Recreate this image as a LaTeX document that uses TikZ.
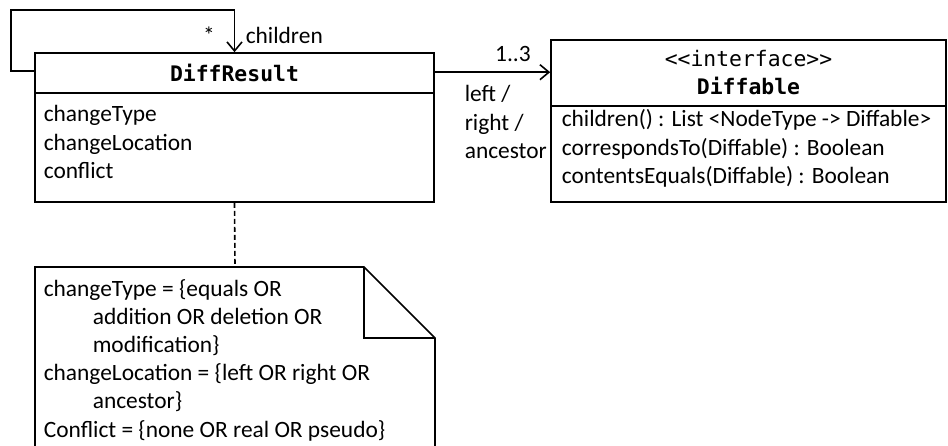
\documentclass[tikz,border=0pt]{standalone}
\usepackage{fontspec}
\setmainfont{Carlito}
\newfontfamily\monof{DejaVu Sans Mono}
\usetikzlibrary{arrows.meta,calc}
\begin{document}
\begin{tikzpicture}[x=1pt,y=-1pt,
  line width=1.6pt,
  box/.style={draw, rectangle, inner sep=0pt, line width=1.6pt},
  txt/.style={inner sep=0pt, font=\fontsize{23.4}{28.2}\selectfont, align=left, anchor=base west},
  mono/.style={inner sep=0pt, font=\monof\fontsize{21.4}{28}\selectfont, anchor=base},
  assoc/.style={-{Straight Barb[length=9pt,width=15pt,line width=1.6pt]}}
]
\clip (0,0) rectangle (948,446);
\fill[white] (0,0) rectangle (948,446);

% DiffResult class
\node[box, minimum width=399pt, minimum height=149pt] (dr) at (234.5,127.5) {};
\draw (dr.west |- 0,93) -- (dr.east |- 0,93);
\node[mono] (drt) at (234.5,82) {\bfseries DiffResult};
\node[txt] (dra) at (43,178.4) {changeType\\changeLocation\\conflict};

% Diffable interface
\node[box, minimum width=395pt, minimum height=162pt] (df) at (748.5,121) {};
\draw (df.west |- 0,106) -- (df.east |- 0,106);
\node[mono] (dfs) at (748.5,67) {<<interface>>};
\node[mono] (dft) at (748.5,95) {\bfseries Diffable};
\node[txt] (dfm) at (561,183.4) {children() : List <NodeType -> Diffable>\\correspondsTo(Diffable) : Boolean\\contentsEquals(Diffable) : Boolean};

% self association
\draw[assoc] ($(dr.north west)+(0,19)$) -| (11,10) -| (dr.north);
\node[txt, anchor=base] (star) at (209,44) {*};
\node[txt] (chl) at (245,44) {children};

% association to Diffable
\draw[assoc] ($(dr.north east)+(0,20)$) -- ($(df.north west)+(0,33)$);
\node[txt, anchor=base] (mult) at (513,62) {1..3};
\node[txt] (role) at (464,158.4) {left /\\right /\\ancestor};

% note
\coordinate (nt) at (235,267);
\draw (35,267) -- (364,267) -- (435,338) -- (435,460) -- (35,460) -- cycle;
\draw (364,267) -- (364,338) -- (435,338);
\draw[dashed, dash pattern=on 5pt off 3pt] (dr.south) -- (nt);
\node[txt] (note) at (43,437) {changeType = \{equals OR\\\hspace*{49pt}addition OR deletion OR\\\hspace*{49pt}modification\}\\changeLocation = \{left OR right OR\\\hspace*{49pt}ancestor\}\\Conflict = \{none OR real OR pseudo\}};
\end{tikzpicture}
\end{document}
